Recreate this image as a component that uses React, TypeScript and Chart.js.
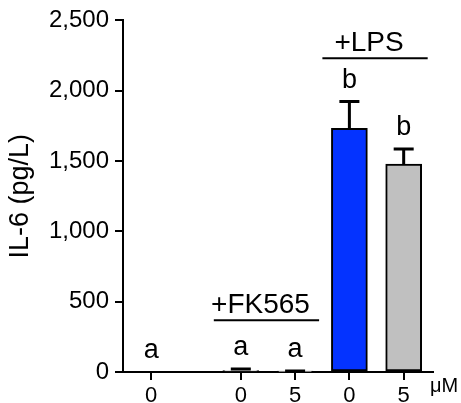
import { useEffect, useRef } from "react";
import { Chart, registerables } from "chart.js";

Chart.register(...registerables);

// ---- data ----
const xLabels = ["0", "0", "5", "0", "5"];
const xSlots = [0.52, 2.17, 3.17, 4.17, 5.17];
const il6Mean = [0, 10, 3, 1733, 1478];
const il6Err = [0, 12, 4, 190, 108];
const letters = ["a", "a", "a", "b", "b"];
const barColors = ["#FFFFFF", "#FFFFFF", "#FFFFFF", "#0433FF", "#C0C0C0"];
const groupLabels = ["+FK565", "+LPS"];
const groupFrom = [1, 3];
const groupTo = [2, 4];
const groupLevel = [368, 2231];
const unitLabel = "μM";
const yTicks = [0, 500, 1000, 1500, 2000, 2500];
const yTitle = "IL-6 (pg/L)";

const FONT = "'Liberation Sans', Arial, sans-serif";

const overlay = {
  id: "overlay",
  afterDatasetsDraw(chart: any) {
    const { ctx, chartArea } = chart;
    const x = chart.scales.x;
    const y = chart.scales.y;
    ctx.save();
    // error bars
    ctx.strokeStyle = "#000";
    ctx.lineWidth = 3;
    il6Mean.forEach((m, i) => {
      if (il6Err[i] <= 0) return;
      const px = x.getPixelForValue(xSlots[i]);
      const y0 = y.getPixelForValue(m);
      const y1 = y.getPixelForValue(m + il6Err[i]);
      ctx.beginPath();
      ctx.moveTo(px, y0);
      ctx.lineTo(px, y1);
      ctx.moveTo(px - 10, y1);
      ctx.lineTo(px + 10, y1);
      ctx.stroke();
    });
    // significance letters
    ctx.fillStyle = "#000";
    ctx.font = `27px ${FONT}`;
    ctx.textAlign = "center";
    ctx.textBaseline = "alphabetic";
    letters.forEach((t, i) => {
      const px = x.getPixelForValue(xSlots[i]);
      const top = Math.min(y.getPixelForValue(il6Mean[i] + il6Err[i]), y.getPixelForValue(0));
      ctx.fillText(t, px, top - 14);
    });
    // group annotations
    ctx.lineWidth = 2;
    ctx.font = `28px ${FONT}`;
    groupLabels.forEach((g, k) => {
      const x1 = x.getPixelForValue(xSlots[groupFrom[k]]) - 27;
      const x2 = x.getPixelForValue(xSlots[groupTo[k]]) + 24;
      const ly = y.getPixelForValue(groupLevel[k]);
      ctx.beginPath();
      ctx.moveTo(x1, ly);
      ctx.lineTo(x2, ly);
      ctx.stroke();
      ctx.fillText(g, (x1 + x2) / 2 - 6, ly - 7);
    });
    // unit label
    ctx.font = `20px ${FONT}`;
    ctx.textAlign = "left";
    ctx.textBaseline = "middle";
    ctx.fillText(unitLabel, chartArea.right - 3, chartArea.bottom + 14);
    ctx.restore();
  },
};

export default function App() {
  const ref = useRef<HTMLCanvasElement | null>(null);

  useEffect(() => {
    if (!ref.current) return;
    const chart = new Chart(ref.current, {
      type: "bar",
      data: {
        datasets: [
          {
            data: xSlots.map((xv, i) => ({ x: xv, y: il6Mean[i] })),
            backgroundColor: barColors,
            borderColor: "#000",
            borderWidth: 2,
            borderSkipped: false,
            barThickness: 36,
          } as any,
        ],
      },
      options: {
        animation: false,
        responsive: false,
        devicePixelRatio: 1,
        layout: { padding: { top: 19, right: 28, bottom: 0, left: 0 } },
        plugins: { legend: { display: false }, tooltip: { enabled: false } },
        scales: {
          x: {
            type: "linear",
            min: 0,
            max: 5.71,
            offset: false,
            afterBuildTicks: (scale: any) => {
              scale.ticks = xSlots.map((v) => ({ value: v }));
            },
            afterFit: (scale: any) => {
              scale.height = 31;
            },
            grid: {
              offset: false,
              drawOnChartArea: false,
              color: "#000",
              lineWidth: 2,
              tickLength: 8,
            },
            border: { color: "#000", width: 2 },
            ticks: {
              color: "#000",
              font: { family: FONT, size: 22 },
              padding: 3,
              maxRotation: 0,
              autoSkip: false,
              callback: (_v: any, i: number) => xLabels[i],
            },
          } as any,
          y: {
            min: 0,
            max: 2500,
            afterBuildTicks: (scale: any) => {
              scale.ticks = yTicks.map((v) => ({ value: v }));
            },
            afterFit: (scale: any) => {
              scale.width = 123;
            },
            grid: {
              drawOnChartArea: false,
              color: "#000",
              lineWidth: 2,
              tickLength: 8,
            },
            border: { color: "#000", width: 2 },
            ticks: {
              color: "#000",
              font: { family: FONT, size: 24 },
              padding: 6,
              callback: (v: any) => Number(v).toLocaleString("en-US"),
            },
            title: {
              display: true,
              text: yTitle,
              color: "#000",
              font: { family: FONT, size: 27 },
              padding: { top: 4, bottom: 0 },
            },
          },
        },
      },
      plugins: [overlay],
    });
    return () => chart.destroy();
  }, []);

  return (
    <div style={{ position: "fixed", left: 0, top: 0, width: 461, height: 403, background: "#fff" }}>
      <canvas ref={ref} width={461} height={403} style={{ width: 461, height: 403 }} />
    </div>
  );
}
